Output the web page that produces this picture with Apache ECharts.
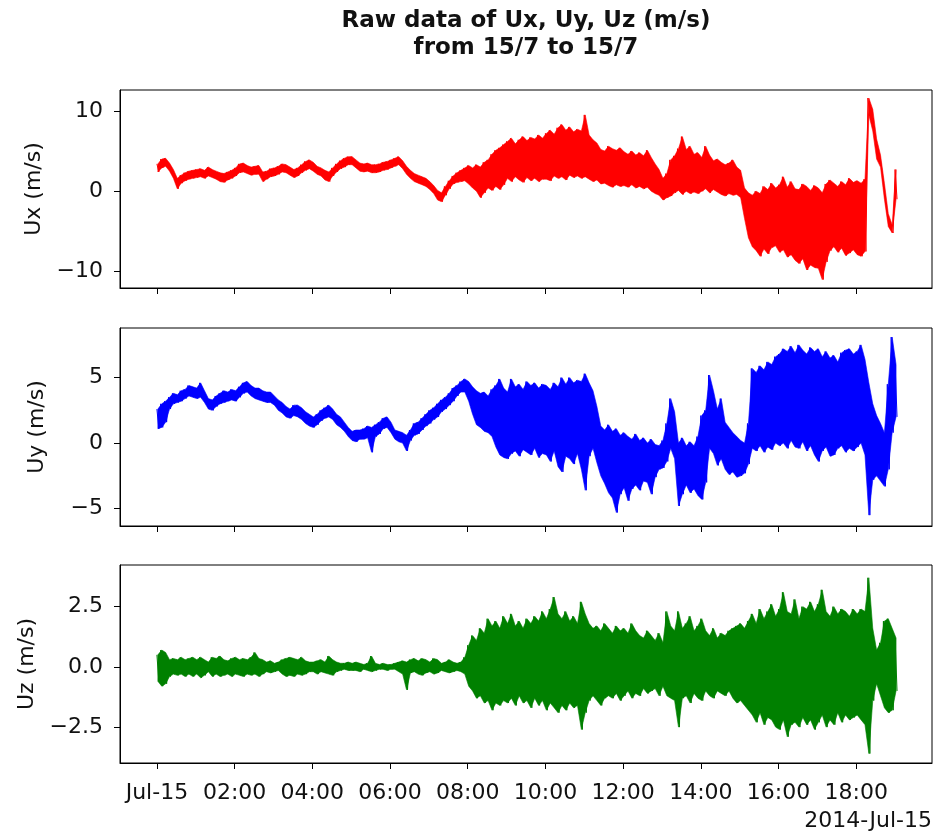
<!DOCTYPE html>
<html lang="en" style="height: 100%">

<head>
  <meta charset="utf-8">
</head>

<body style="height: 100%; margin: 0; background: #fff">
  <div id="container" style="width: 936px; height: 840px"></div>

  <script type="text/javascript" src="https://fastly.jsdelivr.net/npm/echarts@6.0.0/dist/echarts.min.js"></script>
  <script type="text/javascript">
    // each value = max or min of a 6-minute window (hours since Jul-15 00:00)
    var windowH = 0.1;

    var uxMax = [
      3.4, 4.0, 4.1, 3.5, 2.7, 1.6, 2.0, 2.3, 2.5, 2.6,
      2.7, 2.8, 2.6, 3.0, 2.7, 2.5, 2.3, 2.2, 2.4, 2.6,
      2.9, 3.4, 3.5, 3.2, 3.0, 3.1, 3.2, 2.4, 2.5, 2.8,
      2.9, 3.1, 3.4, 3.3, 3.0, 2.7, 2.9, 3.3, 3.7, 3.9,
      3.6, 3.1, 2.9, 2.6, 2.4, 2.9, 3.4, 3.8, 4.1, 4.3,
      4.3, 3.9, 3.5, 3.4, 3.5, 3.3, 3.3, 3.4, 3.6, 3.7,
      3.9, 4.1, 4.3, 3.8, 3.1, 2.6, 2.2, 2.0, 1.8, 1.6,
      1.2, 0.7, 0.1, -0.2, 0.6, 1.3, 1.9, 2.3, 2.6, 2.9,
      3.2, 2.9, 3.3, 3.0, 3.6, 3.9, 4.6, 5.1, 5.4, 5.8,
      6.2, 6.6, 5.9, 6.4, 6.8, 6.3, 6.7, 6.5, 7.0, 6.6,
      7.2, 7.6, 7.1, 7.9, 8.3, 7.6, 8.0, 7.4, 7.7, 7.5,
      9.5, 7.0, 6.4, 6.0, 5.2, 5.0, 5.6, 5.3, 5.1, 5.4,
      4.9, 4.6, 5.0, 4.5, 4.8, 4.4, 5.1, 4.2, 3.4, 2.7,
      1.6, 2.2, 3.9, 4.4, 5.3, 6.8, 5.2, 5.6, 4.6, 4.8,
      4.2, 5.6, 4.5, 3.8, 4.0, 3.6, 3.3, 3.5, 3.9, 3.0,
      2.6, 0.4, -0.2, -0.5, 0.0, -0.3, 0.6, 0.2, 1.0, 0.4,
      0.8, 1.8, 0.5, 1.2, 0.3, 0.2, 0.9, 0.6, 0.1, 0.7,
      0.4, -0.2, 0.9, 1.4, 1.0, 0.6, 1.2, 0.8, 1.6, 1.1,
      1.3, 1.0, 1.5, 11.6, 10.2, 6.5, 4.5, 1.0, -2.8, -4.2, 2.7
    ];
    var uxMin = [
      2.4, 2.9, 3.1, 2.5, 1.6, 0.3, 1.0, 1.3, 1.5, 1.6,
      1.7, 1.8, 1.6, 1.9, 1.7, 1.5, 1.2, 1.1, 1.4, 1.6,
      1.9, 2.3, 2.4, 2.2, 2.0, 2.1, 2.1, 1.2, 1.5, 1.8,
      1.9, 2.1, 2.4, 2.3, 2.0, 1.7, 1.9, 2.3, 2.6, 2.8,
      2.5, 2.1, 1.9, 1.4, 1.2, 1.9, 2.4, 2.8, 3.0, 3.3,
      3.3, 2.9, 2.5, 2.4, 2.5, 2.3, 2.3, 2.4, 2.6, 2.7,
      2.9, 3.1, 3.3, 2.8, 2.1, 1.6, 1.2, 1.0, 0.8, 0.6,
      0.2, -0.3, -1.1, -1.3, -0.5, 0.3, 0.9, 1.1, 1.2, 1.3,
      0.9, 0.4, 0.0, -0.8, -0.2, 0.4, 0.1, 0.6, 0.2, 0.8,
      1.6, 1.2, 1.8, 1.4, 1.1, 1.7, 1.3, 1.6, 1.2, 1.5,
      1.5, 1.3, 1.9, 1.6, 1.8, 1.4, 2.0, 1.7, 1.9, 1.6,
      1.8, 1.5, 1.2, 1.4, 0.9, 1.0, 0.7, 0.5, 0.8, 0.6,
      0.7, 0.5, 0.8, 0.4, 0.6, 0.3, 0.5, 0.0, -0.3, -0.5,
      -1.1, -0.8, -0.6, -0.2, 0.1, -0.4, 0.0, -0.3, -0.1, -0.3,
      0.0, 0.3, -0.2, 0.2, -0.1, -0.4, -0.6, -0.3, -0.5, -0.4,
      -0.8, -3.4, -5.8, -6.9, -7.4, -8.1, -7.2, -7.8, -7.0, -6.8,
      -7.6, -7.3, -8.2, -7.9, -8.6, -9.0, -8.4, -9.8, -9.2, -9.5,
      -9.6, -11.0, -8.8, -7.4, -6.9, -7.6, -7.1, -8.0, -7.7, -7.3,
      -7.9, -8.1, -7.5, 9.5, 7.5, 4.0, 3.0, -1.0, -4.4, -5.2, -1.0
    ];

    var uyMax = [
      2.6, 3.0, 3.2, 3.5, 3.8, 3.7, 4.0, 4.1, 4.4, 4.3,
      4.2, 4.6, 4.0, 3.4, 3.3, 3.6, 3.8, 4.0, 3.9, 4.1,
      4.0, 4.3, 4.6, 4.7, 4.4, 4.2, 4.2, 4.0, 3.9, 3.9,
      3.6, 3.3, 3.1, 2.8, 2.6, 2.9, 2.9, 2.7, 2.4, 2.2,
      2.0, 2.2, 2.5, 2.7, 2.9, 2.6, 2.2, 2.0, 1.6, 1.2,
      0.9, 1.0, 1.0, 1.1, 1.3, 1.2, 1.4, 1.6, 1.9, 2.0,
      1.6, 1.0, 0.9, 0.8, 0.6, 1.0, 1.5, 1.6, 1.9, 2.2,
      2.5, 2.7, 3.0, 3.3, 3.5, 3.8, 4.2, 4.4, 4.7, 4.9,
      4.7, 4.3, 4.0, 3.8, 3.9, 3.6, 4.1, 4.4, 4.9, 4.2,
      3.9, 4.9, 4.3, 4.5, 4.1, 4.7, 4.4, 4.6, 4.2, 4.5,
      4.4, 4.1, 4.6, 4.3, 5.0, 4.5, 5.0, 4.6, 4.8, 4.7,
      5.3, 4.6, 4.0, 2.8, 1.3, 1.0, 1.4, 0.9, 1.1, 0.6,
      0.8, 0.5, 0.3, 0.7, 0.2, 0.4, 0.0, 0.3, -0.1, -0.2,
      0.2, 1.5, 3.4, 2.4, 0.0, 0.4, -0.2, 0.1, -0.2, 0.5,
      2.1, 2.5, 5.2, 4.0, 2.6, 3.4, 1.6, 1.2, 0.8, 0.5,
      0.2, 0.0, 1.5, 5.7, 5.4, 5.9, 5.6, 6.2, 6.0, 6.6,
      6.8, 7.2, 7.0, 7.4, 6.9, 7.5, 7.1, 6.8, 7.3, 7.0,
      7.2, 6.6, 7.0, 6.5, 6.7, 6.2, 6.9, 7.1, 7.2, 6.8,
      7.0, 7.5, 6.4, 4.6, 3.0, 2.1, 1.5, 0.8, 4.5, 8.1, 6.0
    ];
    var uyMin = [
      1.1, 1.2, 1.6, 2.6, 3.0, 3.1, 3.2, 3.4, 3.6, 3.5,
      3.4, 3.5, 3.1, 2.6, 2.5, 2.8, 3.0, 3.1, 3.2, 3.3,
      3.2, 3.5, 3.8, 3.9, 3.6, 3.4, 3.3, 3.2, 3.1, 3.1,
      2.9, 2.5, 2.3, 2.0, 1.9, 2.1, 2.0, 1.8, 1.5, 1.3,
      1.2, 1.4, 1.7, 1.9, 2.0, 1.8, 1.4, 1.2, 0.9, 0.5,
      0.2, 0.1, 0.3, 0.3, 0.4, -0.7, 0.5, 0.7, 1.1, 1.2,
      0.8, 0.3, 0.1, 0.0, -0.6, 0.2, 0.6, 0.7, 1.0, 1.3,
      1.5, 1.8, 2.0, 2.4, 2.6, 2.9, 3.2, 3.6, 3.9, 3.9,
      3.2, 2.2, 1.4, 1.2, 0.9, 0.8, 0.5, -0.3, -0.9, -1.1,
      -1.2, -0.8, -0.6, -1.0, -0.5, -0.7, -0.9, -0.4, -1.1, -0.8,
      -0.9, -1.4, -0.6, -1.8, -2.2, -1.0, -1.2, -1.6, -0.8, -2.0,
      -3.6, -1.0, -0.4, -1.5, -2.5, -3.1, -3.8, -4.2, -5.3, -3.9,
      -3.4, -4.4, -3.5, -3.2, -3.6, -2.9, -3.0, -3.9, -2.6, -2.0,
      -1.9, -1.4, -0.4, -1.2, -4.8, -3.9, -3.2, -3.8, -3.5, -4.0,
      -4.3, -3.0, -0.4, -0.8, -1.7, -1.2, -2.0, -2.4, -2.2, -2.6,
      -2.5, -2.3, -1.6, -0.4, -0.6, -0.2, -0.7, -0.3, -0.5, 0.0,
      -0.2, 0.0, -0.4, 0.2, -0.3, -0.4, 0.1, -0.6, -0.2, -0.9,
      -1.4, -0.6, -0.3, -1.0, -0.9, -0.4, -0.2, -0.7, -0.4, -0.6,
      -0.3, 0.0, -0.9, -5.5, -2.8, -2.5, -2.9, -3.3, -2.0, 0.8, 2.0
    ];

    var uzMax = [
      0.5, 0.7, 0.6, 0.3, 0.35, 0.3, 0.4, 0.3, 0.35, 0.4,
      0.3, 0.4, 0.3, 0.2, 0.4, 0.35, 0.45, 0.3, 0.25, 0.35,
      0.4, 0.3, 0.35, 0.3, 0.4, 0.6, 0.35, 0.3, 0.2, 0.25,
      0.15, 0.2, 0.3, 0.35, 0.4, 0.35, 0.3, 0.4, 0.25, 0.2,
      0.2, 0.25, 0.3, 0.2, 0.45, 0.3, 0.2, 0.15, 0.15, 0.2,
      0.15, 0.2, 0.15, 0.1, 0.15, 0.45, 0.15, 0.1, 0.15, 0.1,
      0.1, 0.15, 0.2, 0.25, 0.2, 0.3, 0.35, 0.25, 0.35, 0.3,
      0.2, 0.35, 0.3, 0.15, 0.2, 0.3, 0.2, 0.15, 0.2, 0.4,
      0.9, 1.3, 1.1, 1.6, 1.4, 2.0, 1.7, 1.9, 1.6, 2.1,
      1.8, 2.2, 1.7, 1.9, 1.6, 2.0, 1.8, 2.1, 1.9, 2.3,
      2.0, 2.4, 2.9, 2.2, 2.0, 2.3, 1.9, 2.1, 1.8, 2.7,
      2.2, 1.8, 1.6, 1.7, 1.5, 1.8, 1.6, 1.4, 1.7, 1.5,
      1.6, 1.4, 1.8, 1.5, 1.3, 1.2, 1.5, 1.3, 1.1, 1.4,
      1.0, 2.3, 1.7, 1.5, 2.3, 1.6, 1.8, 2.1, 1.5, 1.7,
      2.0, 1.5, 1.3, 1.6, 1.2, 1.4, 1.3, 1.5, 1.6, 1.7,
      1.8, 1.6, 1.9, 2.2, 1.8, 2.4, 2.0, 2.3, 2.6, 2.1,
      2.4, 3.1, 2.3, 2.2, 2.8, 2.0, 2.5, 2.4, 2.7, 2.3,
      2.6, 3.2, 2.3, 2.1, 2.5, 2.2, 2.4, 2.3, 2.1, 2.4,
      2.2, 2.4, 2.3, 3.7, 1.6, 0.7, 1.0, 1.9, 2.0, 1.6, 1.2
    ];
    var uzMin = [
      -0.6, -0.8, -0.7, -0.4, -0.3, -0.35, -0.3, -0.4, -0.3, -0.4,
      -0.3, -0.45, -0.35, -0.2, -0.4, -0.3, -0.4, -0.35, -0.3, -0.4,
      -0.3, -0.35, -0.4, -0.3, -0.35, -0.3, -0.4, -0.3, -0.2, -0.25,
      -0.2, -0.15, -0.3, -0.4, -0.35, -0.4, -0.3, -0.35, -0.3, -0.2,
      -0.2, -0.3, -0.2, -0.25, -0.3, -0.35, -0.2, -0.15, -0.1, -0.15,
      -0.15, -0.15, -0.2, -0.1, -0.15, -0.2, -0.15, -0.1, -0.1, -0.15,
      -0.1, -0.1, -0.2, -0.3, -0.95, -0.25, -0.2, -0.3, -0.35, -0.25,
      -0.2, -0.3, -0.25, -0.15, -0.2, -0.25, -0.2, -0.15, -0.2, -0.3,
      -0.8, -1.0, -1.3, -1.2, -1.5, -1.4, -1.8, -1.5, -1.6, -1.4,
      -1.5, -1.3, -1.6, -1.2, -1.5, -1.4, -1.7, -1.3, -1.6, -1.4,
      -1.8, -1.5, -1.7, -1.9, -1.6, -1.8, -1.5, -1.7, -1.6, -2.6,
      -1.9, -1.4, -1.2, -1.4, -1.6, -1.3, -1.2, -1.3, -1.1, -1.4,
      -1.2, -1.0, -1.3, -1.1, -1.2, -0.9, -1.1, -1.0, -0.9, -1.2,
      -0.8, -1.2, -1.3, -1.4, -2.5, -1.3, -1.2, -1.5, -1.1, -1.3,
      -1.4, -1.0, -1.2, -1.3, -1.0, -1.1, -1.2, -1.0, -1.3, -1.5,
      -1.4, -1.6, -1.8, -2.0, -2.3, -1.9, -2.4, -2.1, -2.2, -2.5,
      -2.6, -2.2, -2.9, -2.4, -2.3, -2.5, -2.1, -2.4, -2.2, -2.6,
      -2.3, -2.0, -2.5, -2.2, -2.4, -1.9, -2.3, -2.0, -2.2, -2.1,
      -2.0, -2.2, -2.4, -3.6, -1.4, -0.7, -1.2, -1.7, -1.9, -1.8, -1.0
    ];

    var hourTicks = [0, 2, 4, 6, 8, 10, 12, 14, 16, 18];
    var uxTicks = [-10, 0, 10];
    var uyTicks = [-5, 0, 5];
    var uzTicks = [-2.5, 0, 2.5];

    var FONT = 'DejaVu Sans';

    // max then min of each window, so the line zigzags like the raw signal
    function zigzag(maxArr, minArr) {
      var pts = [];
      for (var i = 0; i < maxArr.length; i++) {
        var t = i * windowH;
        pts.push([t, maxArr[i]]);
        pts.push([t + windowH / 2, minArr[i]]);
      }
      return pts;
    }

    function minus(s) {
      return s.replace('-', '\u2212');
    }

    function xAxis(idx, withLabels) {
      return {
        type: 'value',
        gridIndex: idx,
        min: -0.95,
        max: 19.95,
        splitLine: { show: false },
        axisLine: { show: true, onZero: false, lineStyle: { color: '#000', width: 1 } },
        axisTick: { show: true, length: 6, customValues: hourTicks, lineStyle: { color: '#000' } },
        axisLabel: {
          show: withLabels,
          customValues: hourTicks,
          margin: 19,
          fontSize: 22,
          fontFamily: FONT,
          color: '#111',
          formatter: function (v) {
            if (v === 0) return 'Jul-15';
            return (v < 10 ? '0' + v : '' + v) + ':00';
          }
        }
      };
    }

    function yAxis(idx, name, lo, hi, ticks, digits) {
      return {
        type: 'value',
        gridIndex: idx,
        min: lo,
        max: hi,
        name: name,
        nameLocation: 'middle',
        nameRotate: 90,
        nameGap: 72,
        nameTextStyle: { fontSize: 22, fontFamily: FONT, color: '#111' },
        splitLine: { show: false },
        axisLine: { show: true, onZero: false, lineStyle: { color: '#000', width: 1 } },
        axisTick: { show: true, length: 6, customValues: ticks, lineStyle: { color: '#000' } },
        axisLabel: {
          customValues: ticks,
          margin: 17,
          fontSize: 22,
          fontFamily: FONT,
          color: '#111',
          formatter: function (v) { return minus(v.toFixed(digits)); }
        }
      };
    }

    function lineSeries(idx, color, data) {
      return {
        type: 'line',
        xAxisIndex: idx,
        yAxisIndex: idx,
        data: data,
        showSymbol: false,
        silent: true,
        animation: false,
        z: 3,
        lineStyle: { color: color, width: 1 }
      };
    }

    // the dense part of the signal: filled envelope between window max and min
    function bandSeries(idx, color, maxArr, minArr) {
      return {
        type: 'custom',
        xAxisIndex: idx,
        yAxisIndex: idx,
        silent: true,
        animation: false,
        z: 2,
        data: [[0, 0]],
        renderItem: function (params, api) {
          var pts = [];
          var i;
          for (i = 0; i < maxArr.length; i++) {
            pts.push(api.coord([i * windowH + windowH / 4, maxArr[i]]));
          }
          for (i = minArr.length - 1; i >= 0; i--) {
            pts.push(api.coord([i * windowH + windowH / 4, minArr[i]]));
          }
          return { type: 'polygon', shape: { points: pts }, style: { fill: color, stroke: color, lineWidth: 0.6 } };
        }
      };
    }

    var gridBox = { show: true, left: 120, right: 4, height: 198, borderColor: '#000', borderWidth: 1, backgroundColor: '#fff' };

    var dom = document.getElementById('container');
    var myChart = echarts.init(dom, null, { renderer: 'canvas' });

    var titleStyle = { align: 'center', verticalAlign: 'middle', fontSize: 23, fontWeight: 'bold', fontFamily: FONT, fill: '#111' };

    var option = {
      backgroundColor: '#fff',
      animation: false,
      grid: [
        Object.assign({ top: 90 }, gridBox),
        Object.assign({ top: 328 }, gridBox),
        Object.assign({ top: 565 }, gridBox)
      ],
      xAxis: [xAxis(0, false), xAxis(1, false), xAxis(2, true)],
      yAxis: [
        yAxis(0, 'Ux (m/s)', -12.05, 12.6, uxTicks, 0),
        yAxis(1, 'Uy (m/s)', -6.33, 8.79, uyTicks, 0),
        yAxis(2, 'Uz (m/s)', -3.99, 4.23, uzTicks, 1)
      ],
      series: [
        bandSeries(0, '#ff0000', uxMax, uxMin),
        bandSeries(1, '#0000ff', uyMax, uyMin),
        bandSeries(2, '#008000', uzMax, uzMin),
        lineSeries(0, '#ff0000', zigzag(uxMax, uxMin)),
        lineSeries(1, '#0000ff', zigzag(uyMax, uyMin)),
        lineSeries(2, '#008000', zigzag(uzMax, uzMin))
      ],
      graphic: [
        {
          type: 'text', x: 526, y: 21,
          style: Object.assign({ text: 'Raw data of Ux, Uy, Uz (m/s)' }, titleStyle)
        },
        {
          type: 'text', x: 526, y: 48,
          style: Object.assign({ text: 'from 15/7 to 15/7' }, titleStyle)
        },
        {
          type: 'text', x: 932, y: 821,
          style: { text: '2014-Jul-15', align: 'right', verticalAlign: 'middle', fontSize: 22, fontFamily: FONT, fill: '#111' }
        }
      ]
    };

    myChart.setOption(option);
    window.addEventListener('resize', myChart.resize);
  </script>
</body>

</html>
